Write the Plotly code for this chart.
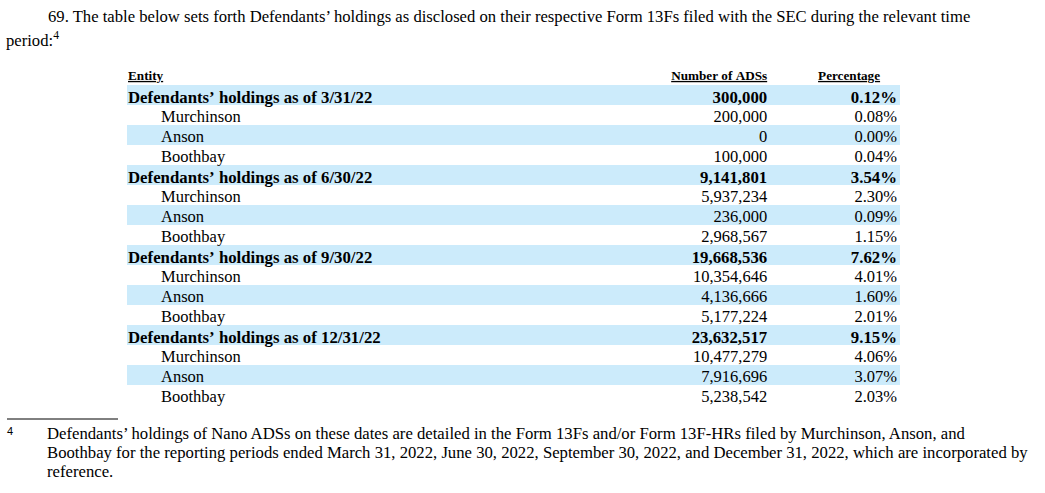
import plotly.graph_objects as go

W, H = 1045, 493

# ---- data ----
entities = [
    "Defendants’ holdings as of 3/31/22", "Murchinson", "Anson", "Boothbay",
    "Defendants’ holdings as of 6/30/22", "Murchinson", "Anson", "Boothbay",
    "Defendants’ holdings as of 9/30/22", "Murchinson", "Anson", "Boothbay",
    "Defendants’ holdings as of 12/31/22", "Murchinson", "Anson", "Boothbay",
]
is_total = [True, False, False, False] * 4
adss = [300000, 200000, 0, 100000,
        9141801, 5937234, 236000, 2968567,
        19668536, 10354646, 4136666, 5177224,
        23632517, 10477279, 7916696, 5238542]
pct = [0.12, 0.08, 0.00, 0.04,
       3.54, 2.30, 0.09, 1.15,
       7.62, 4.01, 1.60, 2.01,
       9.15, 4.06, 3.07, 2.03]
headers = ["Entity", "Number of ADSs", "", "Percentage"]

para_line1 = ("69. The table below sets forth Defendants’ holdings as disclosed on their "
              "respective Form 13Fs filed with the SEC during the relevant time")
para_line2 = "period:<sup>4</sup>"
footnote_mark = "4"
footnote_lines = [
    "Defendants’ holdings of Nano ADSs on these dates are detailed in the Form 13Fs and/or "
    "Form 13F-HRs filed by Murchinson, Anson, and",
    "Boothbay for the reporting periods ended March 31, 2022, June 30, 2022, September 30, "
    "2022, and December 31, 2022, which are incorporated by",
    "reference.",
]

# ---- styling ----
NB = "\u00a0"
SHADE = "#CCEBFB"
CLEAR = "rgba(0,0,0,0)"
SERIF = "Liberation Serif"


def nb(s):
    return s.replace(" ", NB)


ent_txt = [nb(e) if t else NB * 8 + nb(e) for e, t in zip(entities, is_total)]
adss_txt = [f"{v:,}" for v in adss]
pct_txt = [f"{p:.2f}%" for p in pct]
blank = ["" for _ in entities]


def pick(vals, want_total):
    return [v if t == want_total else "" for v, t in zip(vals, is_total)]


row_fill = [SHADE if i % 2 == 0 else "white" for i in range(len(entities))]

text_top = 62
fill_top = 65
colw = [526, 130, 18, 112]
aligns = ["left", "right", "right", "right"]
noline = dict(width=0, color=CLEAR)
empty_header = dict(values=["", "", "", ""], fill_color=CLEAR, line=noline, height=20)


def dom(left, right, top):
    return dict(x=[left / W, right / W], y=[1 - (top + 346) / H, 1 - top / H])


# base table: row shading only
base = go.Table(
    domain=dom(127, 900, fill_top),
    header=dict(values=[""], fill_color="white", line=noline, height=20),
    cells=dict(values=[blank], fill_color=[row_fill], line=noline, height=20),
)


def text_layer(want_total, size, weight, header):
    return go.Table(
        domain=dom(120, 906, text_top),
        columnwidth=colw,
        header=header,
        cells=dict(
            values=[pick(ent_txt, want_total), pick(adss_txt, want_total), blank,
                    pick(pct_txt, want_total)],
            align=aligns,
            fill_color=CLEAR,
            line=noline,
            height=20,
            font=dict(family=SERIF, size=size, color="black", weight=weight),
        ),
    )


header_spec = dict(
    values=[nb(h) for h in headers],
    align=["left", "right", "right", "center"],
    fill_color=CLEAR,
    line=noline,
    height=20,
    font=dict(family=SERIF, size=13.2, color="black", weight="bold",
              lineposition="under"),
)

fig = go.Figure([
    base,
    text_layer(False, 16.5, "normal", header_spec),
    text_layer(True, 16.8, "bold", empty_header),
])


def px(x):
    return x / W


def py(y):
    return 1 - y / H


ann = [
    dict(text=para_line1, x=px(46), y=py(17), xanchor="left", yanchor="middle",
         font=dict(family=SERIF, size=16.65, color="black")),
    dict(text=para_line2, x=px(4), y=py(39), xanchor="left", yanchor="middle",
         font=dict(family=SERIF, size=16.65, color="black")),
    dict(text=footnote_mark, x=px(5), y=py(431), xanchor="left", yanchor="middle",
         font=dict(family="Liberation Sans", size=11, color="black")),
]
for i, line in enumerate(footnote_lines):
    ann.append(dict(text=line, x=px(45), y=py([433, 452, 471][i]), xanchor="left",
                    yanchor="middle", font=dict(family=SERIF, size=16.7, color="black")))
for a in ann:
    a.update(xref="paper", yref="paper", showarrow=False, align="left")

fig.update_layout(
    width=W, height=H,
    margin=dict(l=0, r=0, t=0, b=0),
    paper_bgcolor="white", plot_bgcolor="white",
    annotations=ann,
    shapes=[dict(type="line", xref="paper", yref="paper",
                 x0=px(7), x1=px(118), y0=py(419), y1=py(419),
                 line=dict(color="black", width=1))],
)

fig.write_html("out.html",
               config={"displayModeBar": False, "staticPlot": True},
               post_script="document.body.style.margin='0px';document.body.style.overflow='hidden';")
